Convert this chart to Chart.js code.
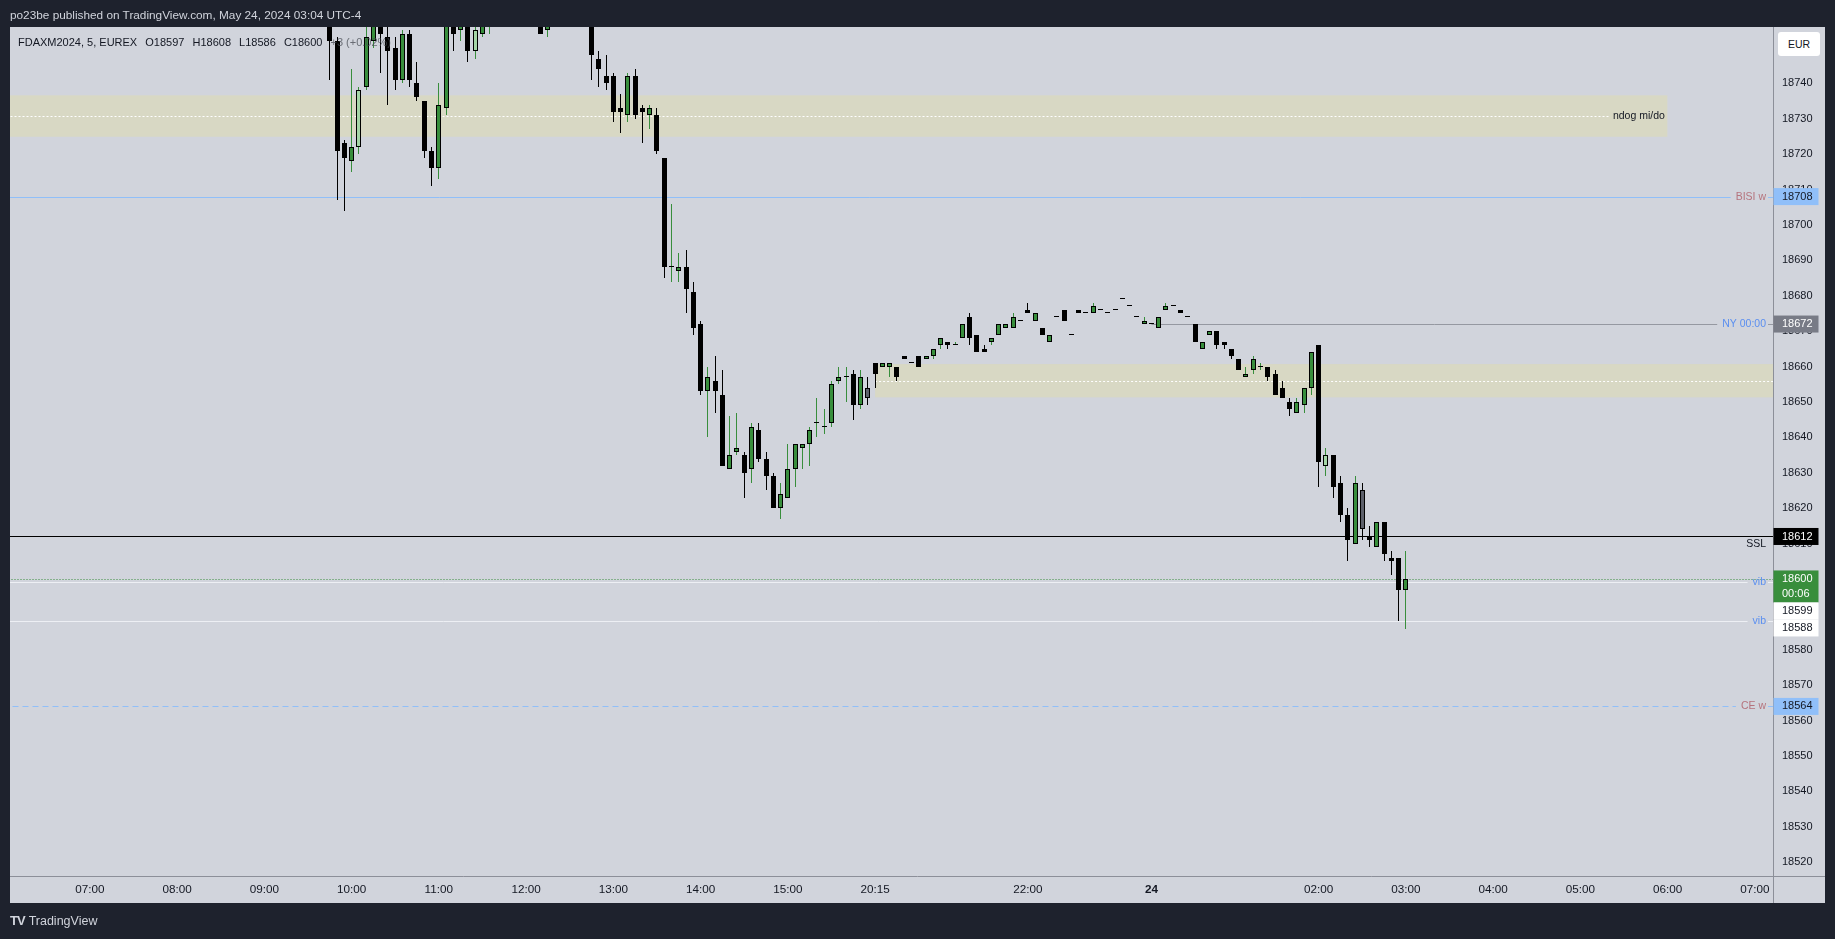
<!DOCTYPE html>
<html>
<head>
<meta charset="utf-8">
<script src="https://cdn.jsdelivr.net/npm/chart.js@4.4.1/dist/chart.umd.min.js"></script>
<style>
  html, body { margin: 0; padding: 0; background: #1e222d; overflow: hidden; }
  #wrap { position: relative; width: 1835px; height: 939px; }
  #chart { position: absolute; left: 0; top: 0; }
  .txt { position: absolute; white-space: nowrap; font-family: "Liberation Sans", Arial, sans-serif; }
  #header { left: 10px; top: 8px; font-size: 11.8px; color: #d1d4dc; }
  #legend { left: 18px; top: 36px; font-size: 11px; color: #131722; }
  #legend span { margin-right: 5px; }
  #legend .chg { color: rgba(70,73,82,0.75); }
  #eur { left: 1778px; top: 32px; width: 42px; height: 24px; background: #ffffff; border-radius: 3px;
         font-size: 10.5px; color: #131722; text-align: center; line-height: 24px; }
  #logo { left: 10px; top: 913px; font-size: 12.5px; color: #d1d4dc; }
  #logo b { font-size: 13px; letter-spacing: -1px; margin-right: 4px; }
</style>
</head>
<body>
<div id="wrap">
  <canvas id="chart" width="1835" height="939"></canvas>
  <div class="txt" id="header">po23be published on TradingView.com, May 24, 2024 03:04 UTC-4</div>
  <div class="txt" id="legend"><span>FDAXM2024, 5, EUREX</span> <span>O18597</span> <span>H18608</span> <span>L18586</span> <span>C18600</span> <span class="chg">+3 (+0.02%)</span></div>
  <div class="txt" id="eur">EUR</div>
  <div class="txt" id="logo"><b>TV</b>TradingView</div>
</div>
<script>
// 5 minute bars, x = bar slot counted from 07:00 (slot 0)
const candleSlots = [
  33,34,35,36,37,38,39,40,41,42,43,44,45,46,47,48,49,50,51,52,53,54,55,
  62,63,
  69,70,71,72,73,74,75,76,77,78,
  79,80,81,82,83,84,85,86,87,88,
  89,90,91,92,93,94,95,96,97,98,
  99,100,101,102,103,104,105,106,107,108,
  109,110,111,112,113,114,115,116,117,118,
  119,120,121,122,123,124,125,126,127,128,
  129,130,131,132,133,134,135,136,137,138,
  139,140,141,142,143,144,145,146,147,148,
  149,150,151,152,153,154,155,156,157,158,
  159,160,161,162,163,164,165,166,167,168,
  169,170,171,172,173,174,175,176,177,178,
  179,180,181
];
const opens = [
  18762,18752,18723,18718,18722,18739,18752,18760,18753,18750,18741,18754,18740,18735,18721,18716,18733,18762,18755,18763,18749,18754,18758,
  18762,18755,
  18760,18747,18742,18742,18733,18731,18742,18733,18731,18731,
  18719,18688,18687,18688,18681,18672,18653,18656,18652,18631,
  18636,18635,18631,18642,18634,18629,18620,18623,18631,18637,
  18638,18644,18643,18644,18656,18657,18658,18649,18654,18661,
  18660,18660,18660,18663,18661,18663,18662,18663,18666,18667,
  18666,18668,18674,18669,18665,18667,18669,18671,18671,18673,
  18676,18673,18671,18667,18674,18676,18669,18676,18675,18675,
  18676,18675,18676,18679,18677,18674,18672,18672,18671,18676,
  18677,18676,18674,18672,18665,18669,18670,18667,18665,18662,
  18657,18659,18660,18660,18658,18654,18650,18647,18649,18654,
  18666,18632,18635,18627,18618,18610,18625,18612,18609,18616,
  18606,18606,18597
];
const highs = [
  18765,18753,18724,18744,18739,18760,18765,18763,18756,18753,18755,18755,18746,18735,18722,18740,18762,18765,18764,18765,18757,18762,18766,
  18764,18762,
  18762,18749,18748,18743,18737,18743,18744,18734,18734,18733,
  18719,18706,18692,18693,18684,18673,18660,18663,18659,18646,
  18647,18636,18644,18644,18636,18630,18627,18638,18638,18638,
  18643,18651,18648,18656,18660,18660,18659,18659,18657,18661,
  18661,18661,18660,18663,18661,18663,18663,18665,18668,18667,
  18667,18672,18675,18669,18666,18668,18672,18672,18675,18673,
  18678,18675,18671,18669,18674,18676,18669,18676,18675,18678,
  18676,18675,18676,18679,18677,18674,18674,18672,18674,18678,
  18677,18676,18674,18672,18667,18670,18670,18667,18665,18662,
  18660,18663,18661,18660,18659,18656,18651,18651,18654,18664,
  18666,18637,18635,18629,18620,18629,18627,18615,18616,18616,
  18608,18606,18608
];
const lows = [
  18741,18707,18704,18715,18720,18738,18750,18743,18734,18738,18740,18739,18735,18719,18711,18713,18731,18749,18752,18746,18747,18753,18754,
  18754,18753,
  18741,18739,18738,18729,18726,18729,18730,18723,18727,18720,
  18685,18684,18684,18675,18669,18652,18640,18647,18632,18631,
  18635,18623,18627,18633,18625,18620,18617,18623,18626,18631,
  18632,18640,18641,18643,18655,18650,18645,18648,18649,18654,
  18660,18657,18656,18662,18661,18660,18662,18662,18665,18665,
  18666,18668,18666,18664,18664,18666,18669,18671,18671,18673,
  18675,18673,18669,18667,18674,18673,18669,18675,18675,18675,
  18676,18675,18676,18679,18677,18674,18672,18672,18671,18676,
  18677,18675,18674,18667,18665,18669,18665,18665,18662,18659,
  18657,18658,18659,18656,18652,18651,18646,18647,18647,18652,
  18626,18629,18623,18616,18605,18610,18611,18609,18609,18605,
  18601,18588,18586
];
const closes = [
  18752,18721,18719,18722,18738,18753,18762,18754,18749,18741,18754,18741,18736,18721,18716,18734,18760,18754,18762,18749,18755,18760,18764,
  18754,18760,
  18748,18744,18740,18732,18732,18742,18731,18732,18733,18721,
  18688,18688,18688,18682,18671,18653,18657,18653,18632,18635,
  18637,18630,18643,18634,18629,18620,18624,18631,18638,18638,
  18642,18644,18643,18655,18657,18657,18649,18657,18651,18658,
  18661,18661,18657,18662,18661,18660,18663,18665,18668,18666,
  18666,18672,18668,18664,18664,18668,18672,18672,18674,18673,
  18675,18675,18669,18669,18674,18673,18669,18675,18675,18677,
  18676,18675,18676,18679,18677,18674,18673,18672,18674,18677,
  18677,18675,18674,18667,18667,18670,18666,18666,18663,18659,
  18658,18662,18660,18657,18652,18651,18648,18650,18654,18664,
  18633,18635,18626,18618,18611,18627,18614,18611,18616,18607,
  18605,18597,18600
];
// bars painted by an indicator in other colours
const paleSlots = [37, 53, 170];
const graySlots = [107, 175];

// time axis
const timeTickSlots = [0, 12, 24, 36, 48, 60, 72, 84, 96, 108, 129, 146, 169, 181, 193, 205, 217, 229];
const timeTickLabels = ['07:00','08:00','09:00','10:00','11:00','12:00','13:00','14:00','15:00','20:15','22:00','24','02:00','03:00','04:00','05:00','06:00','07:00'];
const priceTicks = [18520,18530,18540,18550,18560,18570,18580,18590,18600,18610,18620,18630,18640,18650,18660,18670,18680,18690,18700,18710,18720,18730,18740];

// drawn zones (price band, slot span)
const zoneHigh = [18736.6, 18660.7];
const zoneLow = [18724.9, 18651.3];
const zoneFrom = [-12, 108];
const zoneTo = [216.95, 232];
const zoneText = ['ndog mi/do', ''];

// horizontal levels
const levelPrices = [18708, 18672, 18612, 18600, 18599, 18588, 18564];
const levelText = ['BISI w', 'NY 00:00', 'SSL', '', 'vib', 'vib', 'CE w'];
const levelFrom = [-12, 146, -12, -12, -12, -12, -12];

const UP = '#388e3c', DOWN = '#000000', PALE = '#a5d6a7', GRAY = '#5d606b';
const FONT = '"Liberation Sans", Arial, sans-serif';

const levelStyle = [
  {color: '#90bff9', dash: [], text: '#b5737d', width: 1},
  {color: '#9598a1', dash: [], text: '#5b8ff0', width: 1},
  {color: '#000000', dash: [], text: '#131722', width: 1, below: true},
  {color: UP, dash: [1, 2], text: '', width: 1},
  {color: 'rgba(240,242,246,0.9)', dash: [], text: '#5b8ff0', width: 1},
  {color: 'rgba(240,242,246,0.9)', dash: [], text: '#5b8ff0', width: 1},
  {color: '#90bff9', dash: [6, 4], text: '#b5737d', width: 1}
];
const axisBoxes = [
  {i: 0, bg: '#90bff9', fg: '#131722', lines: ['18708']},
  {i: 1, bg: '#787b86', fg: '#ffffff', lines: ['18672']},
  {i: 2, bg: '#000000', fg: '#ffffff', lines: ['18612']},
  {i: 3, bg: '#388e3c', fg: '#ffffff', lines: ['18600', '00:06']},
  {i: 4, bg: '#ffffff', fg: '#131722', lines: ['18599']},
  {i: 5, bg: '#ffffff', fg: '#131722', lines: ['18588']},
  {i: 6, bg: '#90bff9', fg: '#131722', lines: ['18564']}
];

function isUp(i) { return closes[i] >= opens[i]; }
function bodyColor(i) {
  const s = candleSlots[i];
  if (graySlots.includes(s)) return GRAY;
  if (paleSlots.includes(s)) return PALE;
  return isUp(i) ? UP : DOWN;
}
function wickColor(i) {
  if (graySlots.includes(candleSlots[i])) return DOWN;
  return isUp(i) ? UP : DOWN;
}

function hLine(c, x1, x2, y, st) {
  c.save();
  c.strokeStyle = st.color;
  c.lineWidth = st.width;
  c.setLineDash(st.dash);
  c.beginPath();
  c.moveTo(x1, y);
  c.lineTo(x2, y);
  c.stroke();
  c.restore();
}

const overlay = {
  id: 'overlay',
  // snap bars to whole pixels so wicks and bodies stay crisp
  afterDatasetsUpdate(chart) {
    chart.data.datasets.forEach((d, di) => {
      chart.getDatasetMeta(di).data.forEach(el => {
        el.x = Math.floor(el.x) + 0.5;
        const y = Math.round(el.y);
        let base = Math.round(el.base);
        if (di === 0 && Math.abs(base - y) < 1) base = y + 1;
        el.y = y;
        el.base = base;
      });
    });
  },
  beforeDraw(chart) {
    const c = chart.ctx, a = chart.chartArea, xs = chart.scales.x, ys = chart.scales.y;
    c.save();
    c.fillStyle = '#1e222d';
    c.fillRect(0, 0, chart.width, chart.height);
    c.fillStyle = '#d1d4dc';
    c.fillRect(a.left, a.top, ys.right - a.left, xs.bottom - a.top);
    c.restore();
  },
  beforeDatasetsDraw(chart) {
    const c = chart.ctx, a = chart.chartArea, xs = chart.scales.x, ys = chart.scales.y;
    c.save();
    c.beginPath();
    c.rect(a.left, a.top, a.right - a.left, a.bottom - a.top);
    c.clip();

    zoneHigh.forEach((hi, i) => {
      const x1 = xs.getPixelForValue(zoneFrom[i]);
      const x2 = Math.min(xs.getPixelForValue(zoneTo[i]), a.right);
      const y1 = ys.getPixelForValue(hi), y2 = ys.getPixelForValue(zoneLow[i]);
      c.fillStyle = '#d8d8c4';
      c.fillRect(x1, y1, x2 - x1, y2 - y1);
      const ym = Math.round(ys.getPixelForValue((hi + zoneLow[i]) / 2)) + 0.5;
      let lineEnd = x2;
      if (zoneText[i]) {
        c.font = '10.5px ' + FONT;
        c.fillStyle = '#131722';
        c.textAlign = 'right';
        c.textBaseline = 'middle';
        c.fillText(zoneText[i], x2 - 2.5, ym);
        lineEnd = x2 - 2.5 - c.measureText(zoneText[i]).width - 4;
      }
      hLine(c, x1, lineEnd, ym, {color: '#ffffff', width: 1, dash: [2, 2]});
    });

    levelPrices.forEach((p, i) => {
      const st = levelStyle[i];
      const y = Math.round(ys.getPixelForValue(p)) + 0.5;
      const x1 = xs.getPixelForValue(levelFrom[i]);
      const txt = levelText[i];
      c.font = '10.5px ' + FONT;
      if (!txt || st.below) {
        hLine(c, x1, a.right, y, st);
      } else {
        const w = c.measureText(txt).width;
        hLine(c, x1, a.right - 7 - w - 5, y, st);
        hLine(c, a.right - 5, a.right, y, st);
      }
      if (txt) {
        c.fillStyle = st.text;
        c.textAlign = 'right';
        c.textBaseline = 'middle';
        c.fillText(txt, a.right - 7, st.below ? y + 8 : y);
      }
    });
    c.restore();
  },
  afterDraw(chart) {
    const c = chart.ctx, a = chart.chartArea, xs = chart.scales.x, ys = chart.scales.y;
    c.save();
    // pane separators
    c.strokeStyle = '#8c8f99';
    c.lineWidth = 1;
    c.beginPath();
    c.moveTo(a.left, Math.round(a.bottom) + 0.5);
    c.lineTo(ys.right, Math.round(a.bottom) + 0.5);
    c.moveTo(Math.round(a.right) + 0.5, a.top);
    c.lineTo(Math.round(a.right) + 0.5, xs.bottom);
    c.stroke();

    // price boxes on the axis, stacked so they do not overlap
    const placed = axisBoxes.map(b => {
      const y = ys.getPixelForValue(levelPrices[b.i]);
      return {b, top: y - 8.5, h: b.lines.length > 1 ? 32 : 17};
    }).sort((p, q) => p.top - q.top);
    let last = -1e9;
    placed.forEach(p => {
      if (p.top < last) p.top = last;
      last = p.top + p.h;
      c.fillStyle = p.b.bg;
      c.fillRect(ys.left + 0.5, p.top, 45, p.h);
      c.fillStyle = p.b.fg;
      c.font = '11px ' + FONT;
      c.textAlign = 'left';
      c.textBaseline = 'middle';
      p.b.lines.forEach((t, k) => c.fillText(t, ys.left + 9, p.top + 8.5 + k * 15));
    });
    c.restore();
  }
};

new Chart(document.getElementById('chart'), {
  type: 'bar',
  data: {
    datasets: [{
      label: 'bodies',
      order: 1,
      data: candleSlots.map((s, i) => ({x: s, y: [opens[i], closes[i]]})),
      backgroundColor: candleSlots.map((s, i) => bodyColor(i)),
      borderColor: '#000000',
      borderWidth: 1,
      borderSkipped: false,
      barThickness: 5,
      minBarLength: 1,
      inflateAmount: 0,
      grouped: false
    }, {
      label: 'wicks',
      order: 2,
      data: candleSlots.map((s, i) => ({x: s, y: [lows[i], highs[i]]})),
      backgroundColor: candleSlots.map((s, i) => wickColor(i)),
      borderWidth: 0,
      barThickness: 1,
      inflateAmount: 0,
      grouped: false
    }]
  },
  options: {
    responsive: false,
    animation: false,
    devicePixelRatio: 1,
    layout: {padding: {left: 10, top: 27, right: 10, bottom: 36}},
    plugins: {legend: {display: false}, tooltip: {enabled: false}},
    scales: {
      x: {
        type: 'linear',
        min: -10.97,
        max: 231.48,
        offset: false,
        grid: {display: false, drawTicks: false},
        border: {display: false},
        afterBuildTicks: s => { s.ticks = timeTickSlots.map(v => ({value: v})); },
        afterFit: s => { s.height = 27; },
        ticks: {
          autoSkip: false,
          maxRotation: 0,
          padding: 7,
          color: '#131722',
          font: ctx => ({family: FONT, size: 11.7, weight: ctx.tick && ctx.tick.value === 146 ? 'bold' : 'normal'}),
          callback: v => {
            const k = timeTickSlots.indexOf(v);
            return k >= 0 ? timeTickLabels[k] : '';
          }
        }
      },
      y: {
        type: 'linear',
        position: 'right',
        min: 18516.1,
        max: 18755.9,
        beginAtZero: false,
        grid: {display: false, drawTicks: false},
        border: {display: false},
        afterBuildTicks: s => { s.ticks = priceTicks.map(v => ({value: v})); },
        afterFit: s => { s.width = 52; },
        ticks: {
          padding: 9,
          crossAlign: 'near',
          color: '#131722',
          font: {family: FONT, size: 11},
          callback: v => String(v)
        }
      }
    }
  },
  plugins: [overlay]
});
</script>
</body>
</html>
